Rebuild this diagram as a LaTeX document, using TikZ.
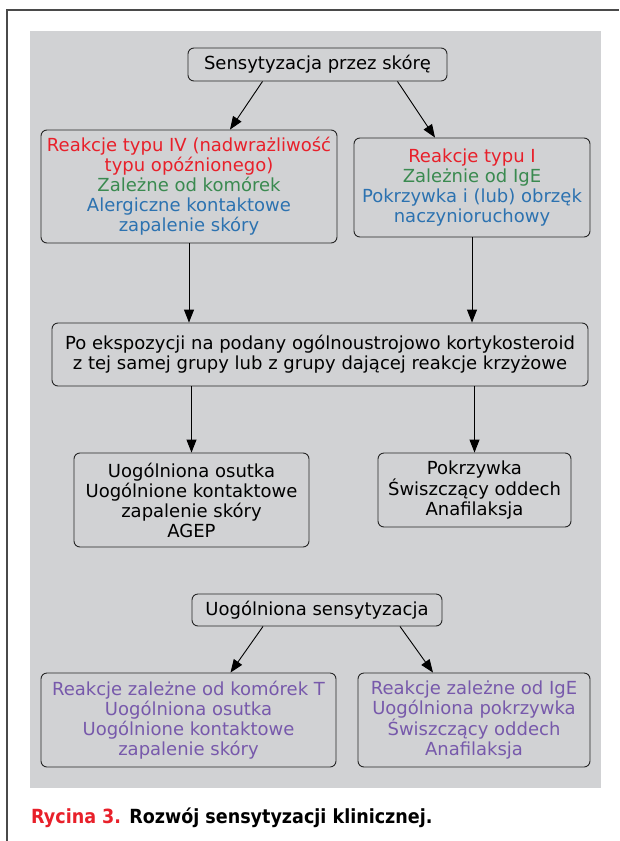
\documentclass[tikz,border=0pt]{standalone}
\usepackage{fontspec}
\setmainfont{DejaVu Sans}
\newfontfamily\captionfont[FakeStretch=0.9]{DejaVu Sans}
\usepackage{xcolor}
\definecolor{PanelGray}{HTML}{D1D2D4}
\definecolor{FrameGray}{HTML}{4A4A4A}
\definecolor{TypeRed}{HTML}{E8202A}
\definecolor{CellGreen}{HTML}{3A8A50}
\definecolor{SkinBlue}{HTML}{2C72B0}
\definecolor{GenPurple}{HTML}{7759AB}
\usepackage{tikz}
\usetikzlibrary{arrows.meta, positioning}

\newcommand{\rd}[1]{\textcolor{TypeRed}{#1}}
\newcommand{\gr}[1]{\textcolor{CellGreen}{#1}}
\newcommand{\bl}[1]{\textcolor{SkinBlue}{#1}}
\newcommand{\pu}[1]{\textcolor{GenPurple}{#1}}

\begin{document}
\begin{tikzpicture}[
        x=1pt, y=1pt,
        stagebox/.style={draw=black!85, fill=PanelGray, rounded corners=6pt,
                         line width=0.9pt, align=center, inner sep=2pt,
                         font=\fontsize{18}{20}\selectfont},
        arr/.style={-{Triangle[length=13pt, width=10pt]}, line width=0.9pt},
      ]
        \useasboundingbox (0,0) rectangle (619,-841);
        % Frame and panel
        \draw[FrameGray, line width=1.1pt] (7,-841) -- (7,-10) -- (619,-10);
        \fill[PanelGray] (30,-31) rectangle (601,-788);
        % Skin route
        \node[stagebox, minimum width=259pt, minimum height=33pt] (S1) at (317.5,-64.5)
          {Sensytyzacja przez skórę};
        \node[stagebox, minimum width=296pt, minimum height=113pt] (L1) at (189,-186.5)
          {\rd{Reakcje typu IV (nadwrażliwość}\\\rd{typu opóźnionego)}\\
           \gr{Zależne od komórek}\\\bl{Alergiczne kontaktowe}\\\bl{zapalenie skóry}};
        \node[stagebox, minimum width=236pt, minimum height=99pt] (R1) at (472,-187.5)
          {\rd{Reakcje typu I}\\\gr{Zależnie od IgE}\\
           \bl{Pokrzywka i (lub) obrzęk}\\\bl{naczynioruchowy}};
        \node[stagebox, minimum width=536pt, minimum height=63pt] (Mid) at (320,-354.5)
          {Po ekspozycji na podany ogólnoustrojowo kortykosteroid\\
           z tej samej grupy lub z grupy dającej reakcje krzyżowe};
        \node[stagebox, minimum width=235pt, minimum height=94pt] (LB) at (191.5,-500)
          {Uogólniona osutka\\Uogólnione kontaktowe\\zapalenie skóry\\AGEP};
        \node[stagebox, minimum width=193pt, minimum height=74pt] (RB) at (474.5,-490)
          {Pokrzywka\\Świszczący oddech\\Anafilaksja};
        % Systemic route
        \node[stagebox, minimum width=250pt, minimum height=32pt] (US) at (317,-610)
          {Uogólniona sensytyzacja};
        \node[stagebox, minimum width=295pt, minimum height=94pt] (PL) at (188.5,-720)
          {\pu{Reakcje zależne od komórek T}\\\pu{Uogólniona osutka}\\
           \pu{Uogólnione kontaktowe}\\\pu{zapalenie skóry}};
        \node[stagebox, minimum width=232pt, minimum height=94pt] (PR) at (474,-720)
          {\pu{Reakcje zależne od IgE}\\\pu{Uogólniona pokrzywka}\\
           \pu{Świszczący oddech}\\\pu{Anafilaksja}};
        % Connectors
        \draw[arr] ([xshift=-55pt]S1.south) -- ([xshift=41pt]L1.north);
        \draw[arr] ([xshift=80pt]S1.south) -- ([xshift=-37pt]R1.north);
        \draw[arr] (L1.south) -- (L1.south |- Mid.north);
        \draw[arr] (R1.south) -- (R1.south |- Mid.north);
        \draw[arr] (Mid.south -| LB.north) -- (LB.north);
        \draw[arr] (Mid.south -| RB.north) -- (RB.north);
        \draw[arr] ([xshift=-54pt]US.south) -- ([xshift=42pt]PL.north);
        \draw[arr] ([xshift=83pt]US.south) -- ([xshift=-41pt]PR.north);
        % Caption
        \node[anchor=base west, inner sep=0pt, font=\captionfont\bfseries\fontsize{19.5}{22}\selectfont]
          (Cap) at (31,-823) {\textcolor{TypeRed}{Rycina 3.} Rozwój sensytyzacji klinicznej.};
      \end{tikzpicture}
\end{document}
